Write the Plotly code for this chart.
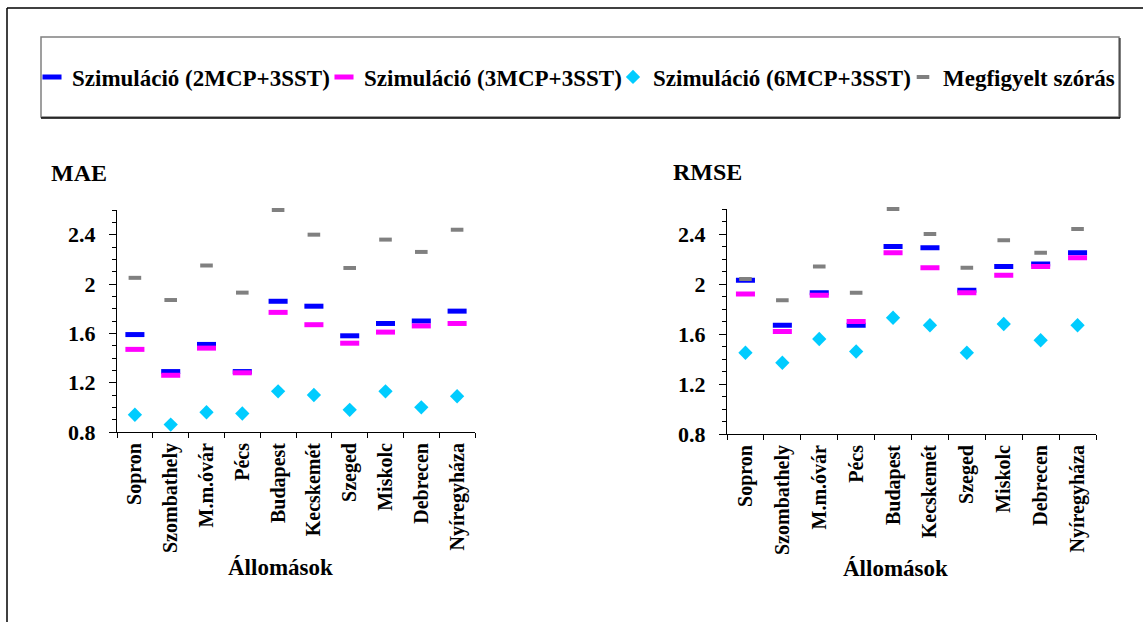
import plotly.graph_objects as go

W, H = 1143, 622

stations = ["Sopron", "Szombathely", "M.m.óvár", "Pécs", "Budapest",
            "Kecskemét", "Szeged", "Miskolc", "Debrecen", "Nyíregyháza"]

series_names = ["Szimuláció (2MCP+3SST)", "Szimuláció (3MCP+3SST)",
                "Szimuláció (6MCP+3SST)", "Megfigyelt szórás"]

# MAE values
mae_2mcp = [1.59, 1.29, 1.51, 1.29, 1.86, 1.82, 1.58, 1.68, 1.70, 1.78]
mae_3mcp = [1.47, 1.26, 1.48, 1.28, 1.77, 1.67, 1.52, 1.61, 1.66, 1.68]
mae_6mcp = [0.94, 0.86, 0.96, 0.95, 1.13, 1.10, 0.98, 1.13, 1.00, 1.09]
mae_obs = [2.05, 1.87, 2.15, 1.93, 2.60, 2.40, 2.13, 2.36, 2.26, 2.44]

# RMSE values
rmse_2mcp = [2.03, 1.67, 1.93, 1.67, 2.30, 2.29, 1.95, 2.14, 2.16, 2.25]
rmse_3mcp = [1.92, 1.62, 1.91, 1.70, 2.25, 2.13, 1.93, 2.07, 2.14, 2.21]
rmse_6mcp = [1.45, 1.37, 1.56, 1.46, 1.73, 1.67, 1.45, 1.68, 1.55, 1.67]
rmse_obs = [2.04, 1.87, 2.14, 1.93, 2.60, 2.40, 2.13, 2.35, 2.25, 2.44]

y_ticks = [0.8, 1.2, 1.6, 2.0, 2.4]
y_ticktext = ["0.8", "1.2", "1.6", "2", "2.4"]

FONT = '"Liberation Serif", "Times New Roman", Times, serif'
colors = ["#0000FF", "#FF00FF", "#00CCFF", "#808080"]
symbols = ["line-ew-open", "line-ew-open", "diamond", "line-ew-open"]
sizes = [13.6, 13.6, 11, 9]
lwidths = [5, 5, 0, 4]
legend_ids = ["legend", "legend2", "legend3", "legend4"]
legend_x = [32, 324, 613, 903]


def px(x):
    return x / W


def py(y):
    return 1 - y / H


fig = go.Figure()

for panel, (xa, ya, data) in enumerate([
        ("x", "y", [mae_2mcp, mae_3mcp, mae_6mcp, mae_obs]),
        ("x2", "y2", [rmse_2mcp, rmse_3mcp, rmse_6mcp, rmse_obs])]):
    for i, vals in enumerate(data):
        fig.add_trace(go.Scatter(
            x=stations, y=vals, mode="markers", name=series_names[i],
            xaxis=xa, yaxis=ya, legendgroup=str(i), showlegend=(panel == 0),
            legend=legend_ids[i], cliponaxis=False,
            marker=dict(symbol=symbols[i], size=sizes[i], color=colors[i],
                        line=dict(color=colors[i], width=lwidths[i])),
            hoverinfo="skip"))

tickfont = dict(family=FONT, size=22, color="black", weight="bold")
xtickfont = dict(family=FONT, size=20, color="black", weight="bold")
legfont = dict(family=FONT, size=23, color="black", weight="bold")


def yaxis(domain):
    return dict(domain=domain, range=[0.8, 2.6], tickvals=y_ticks,
                ticktext=y_ticktext,
                ticks="outside", ticklen=7, tickcolor="black", tickwidth=1,
                minor=dict(dtick=0.1, tick0=0.8, ticks="outside", ticklen=4,
                           tickcolor="black", tickwidth=1, showgrid=False),
                showline=True, linecolor="black", linewidth=1,
                showgrid=False, zeroline=False, tickfont=tickfont,
                ticklabelstandoff=9, automargin=False, fixedrange=True)


def xaxis(domain, anchor):
    return dict(domain=domain, anchor=anchor, type="category",
                categoryorder="array", categoryarray=stations,
                range=[-0.5, 9.5], tickson="boundaries", ticks="outside",
                ticklen=5, tickcolor="black", tickwidth=1, tickangle=-90,
                showline=True, linecolor="black", linewidth=1,
                showgrid=False, zeroline=False, tickfont=xtickfont,
                ticklabelstandoff=2, automargin=False, fixedrange=True)


legends = {}
for lid, lx in zip(legend_ids, legend_x):
    legends[lid] = dict(orientation="h", x=px(lx), y=py(77), xanchor="left",
                        yanchor="middle", bgcolor="rgba(0,0,0,0)",
                        borderwidth=0, font=legfont, itemwidth=30,
                        itemclick=False, itemdoubleclick=False)

fig.update_layout(
    width=W, height=H,
    margin=dict(l=0, r=0, t=0, b=0),
    paper_bgcolor="white", plot_bgcolor="white",
    xaxis=xaxis([px(117), px(475)], "y"),
    yaxis=yaxis([py(432), py(210)]),
    xaxis2=xaxis([px(727), px(1096)], "y2"),
    yaxis2=dict(yaxis([py(434), py(209)]), anchor="x2"),
    showlegend=True,
    annotations=[
        dict(text="MAE", x=px(49), y=py(173), xref="paper", yref="paper",
             xanchor="left", yanchor="middle", showarrow=False,
             font=dict(family=FONT, size=24, color="black", weight="bold")),
        dict(text="RMSE", x=px(671), y=py(172), xref="paper", yref="paper",
             xanchor="left", yanchor="middle", showarrow=False,
             font=dict(family=FONT, size=24, color="black", weight="bold")),
        dict(text="Állomások", x=px(280), y=py(567), xref="paper", yref="paper",
             xanchor="center", yanchor="middle", showarrow=False,
             font=dict(family=FONT, size=23, color="black", weight="bold")),
        dict(text="Állomások", x=px(895), y=py(568), xref="paper", yref="paper",
             xanchor="center", yanchor="middle", showarrow=False,
             font=dict(family=FONT, size=23, color="black", weight="bold")),
    ],
    shapes=[
        # outer frame (top and left edges)
        dict(type="line", xref="paper", yref="paper", x0=px(7), x1=1.0,
             y0=py(8), y1=py(8), line=dict(color="black", width=1.5)),
        dict(type="line", xref="paper", yref="paper", x0=px(7), x1=px(7),
             y0=py(8), y1=0, line=dict(color="black", width=1.5)),
        # legend box
        dict(type="rect", xref="paper", yref="paper", x0=px(41), x1=px(1119),
             y0=py(117), y1=py(37), line=dict(color="#808080", width=1.5)),
        dict(type="line", xref="paper", yref="paper", x0=px(41), x1=px(1120),
             y0=py(118), y1=py(118), line=dict(color="black", width=1.5)),
        dict(type="line", xref="paper", yref="paper", x0=px(1120), x1=px(1120),
             y0=py(118), y1=py(38), line=dict(color="black", width=1)),
    ],
    **legends,
)

fig.write_html("out.html")
